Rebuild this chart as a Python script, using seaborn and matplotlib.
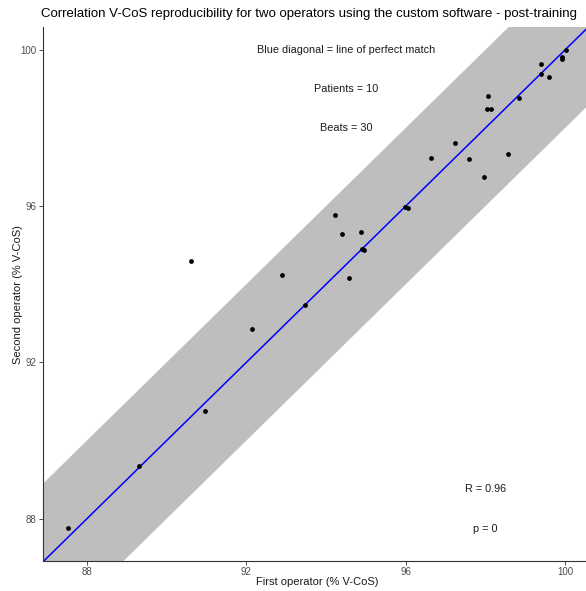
import matplotlib
matplotlib.use("Agg")
import matplotlib.pyplot as plt
import numpy as np
import pandas as pd
import seaborn as sns

# V-CoS (%) measured by each operator, one value per beat
first_operator = [100.01, 99.91, 99.91, 99.39, 99.40, 99.59, 98.85,
                  98.05, 98.03, 98.14, 97.24, 96.63, 97.58, 98.56, 97.96,
                  94.22, 94.40, 94.87, 94.90, 94.96, 94.57, 95.98, 96.06,
                  90.62, 92.89, 93.48, 92.13,
                  90.97, 89.31, 87.53]
second_operator = [99.98, 99.81, 99.76, 99.63, 99.38, 99.30, 98.77,
                   98.82, 98.47, 98.47, 97.62, 97.22, 97.20, 97.34, 96.74,
                   95.76, 95.29, 95.33, 94.91, 94.88, 94.15, 95.98, 95.94,
                   94.59, 94.23, 93.47, 92.85,
                   90.76, 89.34, 87.76]

tick_values = [88, 92, 96, 100]
band_halfwidth = 2.0
x_limits = (86.9, 100.52)
y_limits = (86.92, 100.58)

df = pd.DataFrame({"first": first_operator, "second": second_operator})

sns.set_theme(style="ticks")
plt.rcParams["font.family"] = ["Liberation Sans", "DejaVu Sans"]

W, H = 586, 591
fig = plt.figure(figsize=(W / 100, H / 100), dpi=100)
ax = fig.add_axes([43 / W, 1 - 561 / H, (W - 43) / W, (561 - 27) / H])

# agreement band around the identity line
grid = np.linspace(85, 102, 50)
ax.fill_between(grid, grid - band_halfwidth, grid + band_halfwidth,
                color="#BEBEBE", linewidth=0, zorder=1)

# line of perfect match
diag = pd.DataFrame({"x": grid, "y": grid})
sns.lineplot(data=diag, x="x", y="y", color="blue", linewidth=1.1, ax=ax, zorder=2)

sns.scatterplot(data=df, x="first", y="second", color="black", s=12,
                edgecolor="black", linewidth=0, ax=ax, zorder=3)

txt = dict(ha="center", va="center", fontsize=7.8, color="#1A1A1A")
ax.text(94.5, 100.0, "Blue diagonal = line of perfect match", **txt)
ax.text(94.5, 99.0, "Patients = 10", **txt)
ax.text(94.5, 98.0, "Beats = 30", **txt)
ax.text(98.0, 88.75, "R = 0.96", **txt)
ax.text(98.0, 87.73, "p = 0", **txt)

ax.set_xlim(*x_limits)
ax.set_ylim(*y_limits)
ax.set_xticks(tick_values)
ax.set_yticks(tick_values)
ax.tick_params(axis="both", labelsize=7, labelcolor="#4D4D4D", color="#333333",
               length=3, width=0.6, pad=1.5)
ax.set_xlabel("First operator (% V-CoS)", fontsize=8, color="#1A1A1A")
ax.set_ylabel("Second operator (% V-CoS)", fontsize=8, color="#1A1A1A")
ax.xaxis.set_label_coords((317 - 43) / (W - 43), -(577 - 561) / (561 - 27))
ax.yaxis.set_label_coords(-(43 - 23) / (W - 43), (561 - 295) / (561 - 27))
for side in ("top", "right"):
    ax.spines[side].set_visible(False)
for side in ("left", "bottom"):
    ax.spines[side].set_color("#333333")
    ax.spines[side].set_linewidth(0.8)

fig.text(309 / W, 1 - 14 / H,
         "Correlation V-CoS reproducibility for two operators using the custom software - post-training",
         ha="center", va="center", fontsize=9.5, color="#000000")

fig.savefig("out.png", dpi=100)
